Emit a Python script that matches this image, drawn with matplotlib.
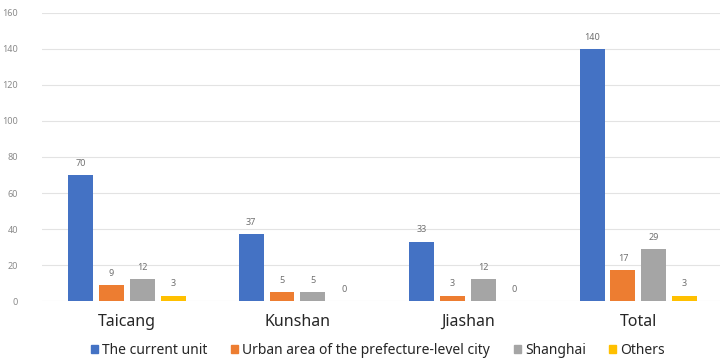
import numpy as np
import matplotlib.pyplot as plt
from matplotlib.patches import Patch

categories = ["Taicang", "Kunshan", "Jiashan", "Total"]
series_names = [
    "The current unit",
    "Urban area of the prefecture-level city",
    "Shanghai",
    "Others",
]
current_unit = [70, 37, 33, 140]
urban_area = [9, 5, 3, 17]
shanghai = [12, 5, 12, 29]
others = [3, 0, 0, 3]

colors = ["#4472C4", "#ED7D31", "#A5A5A5", "#FFC000"]
series = [current_unit, urban_area, shanghai, others]

plt.rcParams["font.family"] = ["Noto Sans", "DejaVu Sans"]

fig = plt.figure(figsize=(7.2, 3.58), dpi=100)
ax = fig.add_axes([0.058, 0.159, 0.947, 0.805])

x = np.arange(len(categories))
width = 0.146
step = 0.181
for i, (vals, col) in enumerate(zip(series, colors)):
    pos = x + (i - 1.5) * step
    ax.bar(pos, vals, width=width, color=col, zorder=3)
    for p, v in zip(pos, vals):
        ax.text(p, v + 4, str(v), ha="center", va="bottom",
                fontsize=6.5, color="#707070")

ax.set_xlim(-0.5, 3.5)
ax.set_ylim(0, 160)
ax.set_yticks(range(0, 161, 20))
ax.set_xticks(x)
ax.set_xticklabels(categories, fontsize=11.5, color="#262626")
ax.tick_params(axis="y", labelsize=6.5, labelcolor="#8a8a8a", length=0, pad=17)
ax.tick_params(axis="x", length=0, pad=9)
ax.grid(axis="y", color="#E3E3E3", linewidth=0.8, zorder=0)
for s in ax.spines.values():
    s.set_visible(False)

handles = [Patch(color=c) for c in colors]
fig.legend(handles, series_names, loc="lower center", bbox_to_anchor=(0.525, -0.035),
           ncol=4, frameon=False, fontsize=10, handlelength=0.5, handleheight=0.5,
           handletextpad=0.3, columnspacing=1.7, labelcolor="#262626")

fig.savefig("out.png", dpi=100)
